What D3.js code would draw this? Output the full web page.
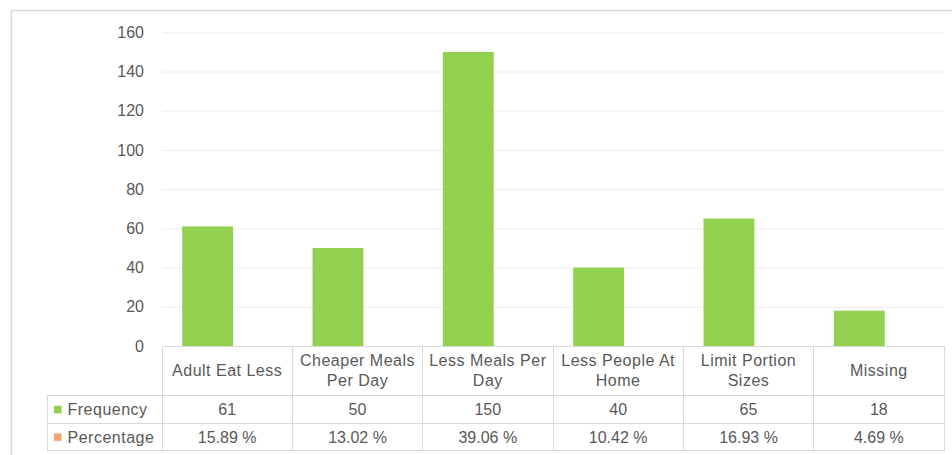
<!DOCTYPE html>
<html><head><meta charset="utf-8">
<script src="https://cdn.jsdelivr.net/npm/d3@7"></script>
<style>
html,body{margin:0;padding:0;background:#fff;}
svg{display:block;font-family:"Liberation Sans",Arial,sans-serif;}
</style></head>
<body><svg id="c" width="952" height="455"></svg>
<script>
const categories = ["Adult Eat Less","Cheaper Meals Per Day","Less Meals Per Day","Less People At Home","Limit Portion Sizes","Missing"];
const seriesNames = ["Frequency","Percentage"];
const frequency = [61,50,150,40,65,18];
const percentage = [15.89,13.02,39.06,10.42,16.93,4.69];
const yTicks = [0,20,40,60,80,100,120,140,160];
const seriesColors = ["#92d050","#f4a46c"];

const svg = d3.select("#c");
const L = 162, R = 944, T = 32.3, B = 346;
const txt = "#595959", grid = "#ececec", border = "#d9d9d9";

// outer frame
svg.append("path").attr("d","M11.5,456 V10.5 H960").attr("fill","none").attr("stroke",border).attr("stroke-width",1.6);

const x0 = d3.scaleBand().domain(categories).range([L,R]).padding(0);
const bw = x0.bandwidth();
const x1 = d3.scaleBand().domain(seriesNames).range([bw*0.155, bw*0.935]).padding(0);
const y = d3.scaleLinear().domain([0,160]).range([B,T]);

// gridlines + y labels via axis
const ya = svg.append("g").attr("transform",`translate(${L},0)`)
  .call(d3.axisLeft(y).tickValues(yTicks).tickSize(-(R-L)).tickPadding(18));
ya.select(".domain").remove();
ya.selectAll(".tick line").attr("stroke",grid).attr("stroke-width",1).filter(d=>d===0).remove();
ya.selectAll(".tick text").attr("fill",txt).attr("font-size",16).attr("font-family","Liberation Sans, Arial, sans-serif");

// bars (frequency)
svg.append("g").selectAll("rect").data(categories).join("rect")
  .attr("x",d=>x0(d)+x1("Frequency"))
  .attr("width",x1.bandwidth())
  .attr("y",(d,i)=>y(frequency[i]))
  .attr("height",(d,i)=>B-y(frequency[i]))
  .attr("fill",seriesColors[0]);

// data table
const rowTop = [346,395.3,423.3,450.5];
const LL = 47.5;
const tg = svg.append("g").attr("stroke",border).attr("stroke-width",1).attr("fill","none").attr("shape-rendering","crispEdges");
// horizontal lines
tg.append("line").attr("x1",L).attr("x2",R).attr("y1",rowTop[0]).attr("y2",rowTop[0]);
[1,2,3].forEach(k=>tg.append("line").attr("x1",LL).attr("x2",R).attr("y1",rowTop[k]).attr("y2",rowTop[k]));
// vertical lines
tg.append("line").attr("x1",LL).attr("x2",LL).attr("y1",rowTop[1]).attr("y2",rowTop[3]);
categories.forEach(c=>tg.append("line").attr("x1",x0(c)).attr("x2",x0(c)).attr("y1",rowTop[0]).attr("y2",rowTop[3]));
tg.append("line").attr("x1",R).attr("x2",R).attr("y1",rowTop[0]).attr("y2",rowTop[3]);

// header labels with wrapping
const hg = svg.append("g");
categories.forEach(c=>{
  const cx = x0(c)+bw/2;
  const t = hg.append("text").attr("x",cx).attr("text-anchor","middle").attr("fill",txt)
    .attr("font-size",16).attr("letter-spacing",0.5);
  const words = c.split(" ");
  let lines = [], cur = [];
  const probe = hg.append("text").attr("font-size",16).attr("letter-spacing",0.5);
  words.forEach(w=>{
    const test = cur.concat([w]).join(" ");
    probe.text(test);
    if (probe.node().getComputedTextLength() > 124 && cur.length) { lines.push(cur.join(" ")); cur=[w]; }
    else cur.push(w);
  });
  lines.push(cur.join(" "));
  probe.remove();
  const mid = (rowTop[0]+rowTop[1])/2;
  const lh = 20;
  lines.forEach((ln,i)=>{
    t.append("tspan").attr("x",cx).attr("y",mid + (i-(lines.length-1)/2)*lh).attr("dy","0.35em").text(ln);
  });
});

// series rows
const rows = [
  {name:seriesNames[0], vals:frequency.map(v=>String(v)), color:seriesColors[0]},
  {name:seriesNames[1], vals:percentage.map(v=>v.toFixed(2)+" %"), color:seriesColors[1]}
];
rows.forEach((r,k)=>{
  const cy = (rowTop[k+1]+rowTop[k+2])/2;
  svg.append("rect").attr("x",54).attr("y",cy-3.5).attr("width",7.5).attr("height",7.5).attr("fill",r.color);
  svg.append("text").attr("x",67.5).attr("y",cy).attr("dy","0.35em").attr("fill",txt)
    .attr("font-size",16).attr("letter-spacing",0.5).text(r.name);
  svg.append("g").selectAll("text").data(categories).join("text")
    .attr("x",d=>x0(d)+bw/2).attr("y",cy).attr("dy","0.35em").attr("text-anchor","middle")
    .attr("fill",txt).attr("font-size",16).text((d,i)=>r.vals[i]);
});
</script></body></html>
